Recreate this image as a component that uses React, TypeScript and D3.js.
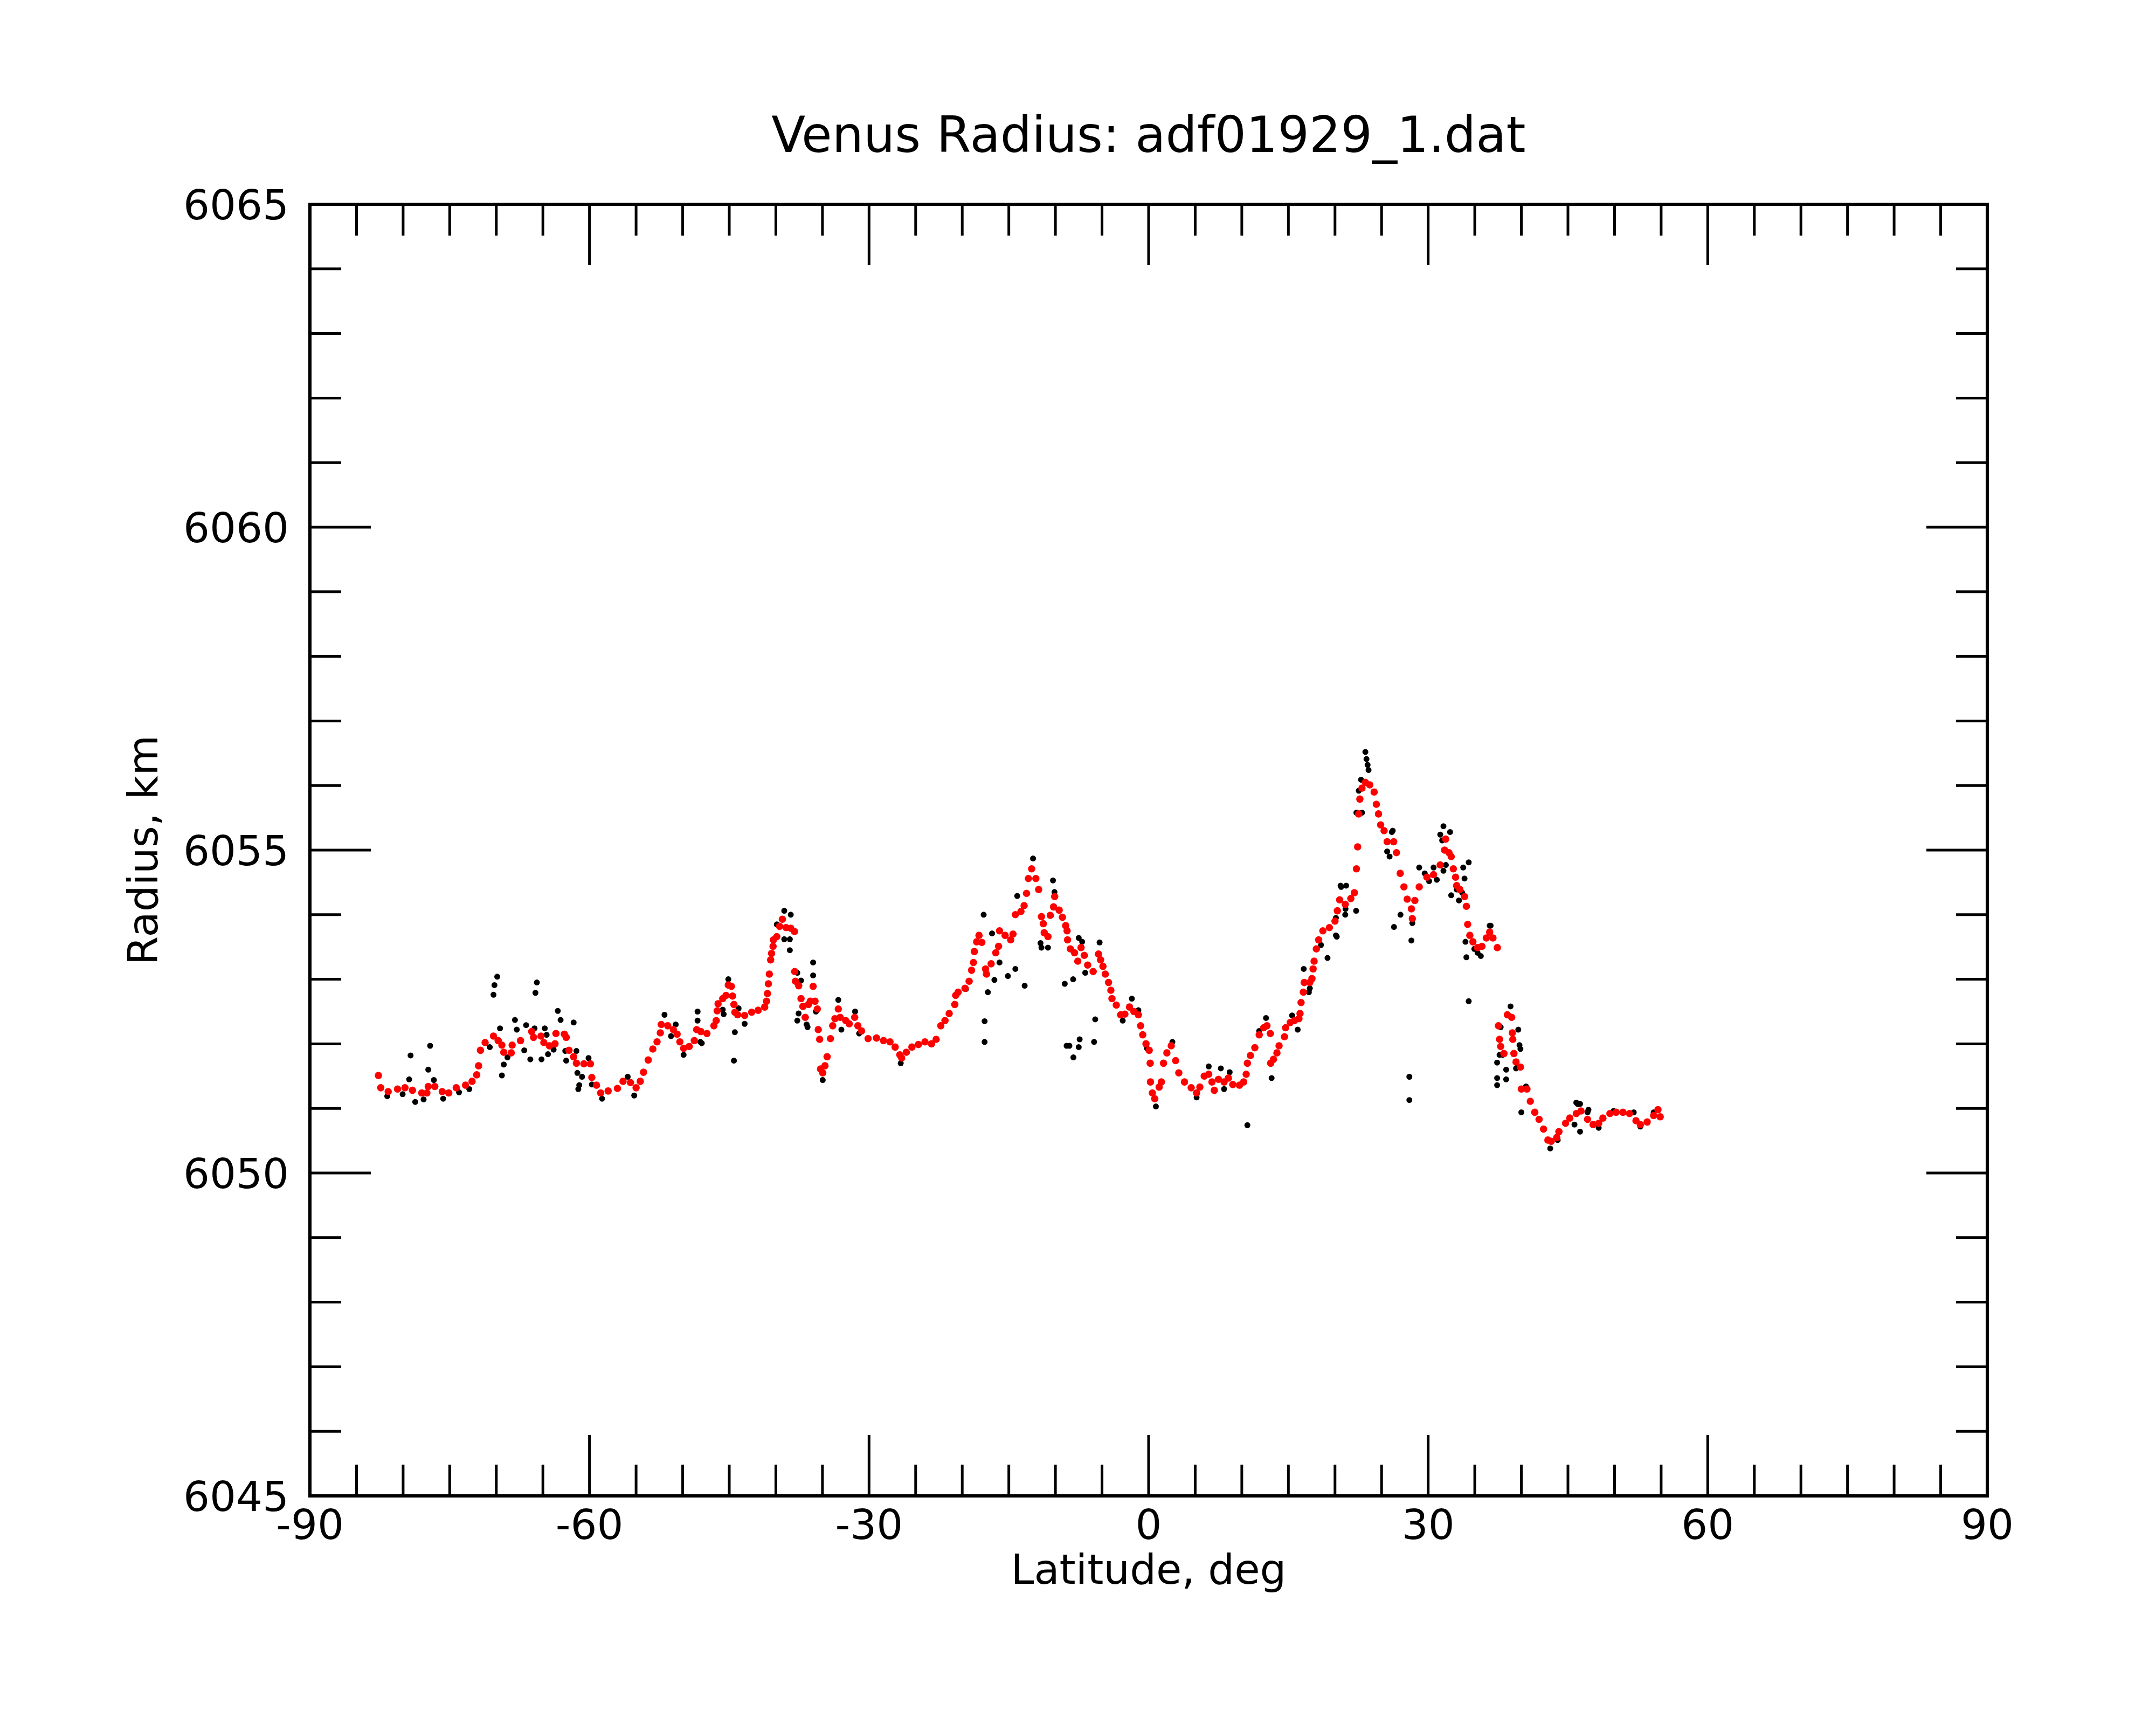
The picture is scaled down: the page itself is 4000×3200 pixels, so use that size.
import React from 'react';
import * as d3 from 'd3';

// smoothed radius profile (red) - [latitude deg, radius km]
const smoothed: [number, number][] = [
  [-82.65, 6051.51], [-82.4, 6051.32], [-81.6, 6051.26], [-80.6, 6051.3], [-79.8, 6051.32],
  [-79.0, 6051.28], [-78.0, 6051.24], [-77.45, 6051.24], [-77.3, 6051.34], [-76.6, 6051.34],
  [-75.8, 6051.26], [-75.1, 6051.24], [-74.3, 6051.32], [-73.3, 6051.36], [-72.6, 6051.42],
  [-72.1, 6051.52], [-71.9, 6051.66], [-71.7, 6051.9], [-71.2, 6052.02], [-70.3, 6052.12],
  [-69.8, 6052.05], [-69.4, 6051.98], [-69.2, 6051.87], [-68.4, 6051.86], [-68.3, 6051.98],
  [-67.4, 6052.05], [-66.2, 6052.19], [-66.0, 6052.1], [-65.2, 6052.12], [-64.9, 6052.02],
  [-64.3, 6051.97], [-63.7, 6052.0], [-63.6, 6052.16], [-62.7, 6052.15], [-62.5, 6052.1],
  [-62.2, 6051.9], [-61.7, 6051.8], [-61.4, 6051.7], [-60.6, 6051.69], [-59.9, 6051.69],
  [-59.75, 6051.48], [-59.25, 6051.36], [-58.8, 6051.24], [-58.0, 6051.27], [-57.0, 6051.31],
  [-56.4, 6051.42], [-55.6, 6051.4], [-55.0, 6051.32], [-54.55, 6051.42], [-54.2, 6051.56],
  [-53.7, 6051.75], [-53.2, 6051.92], [-52.75, 6052.03], [-52.4, 6052.17], [-52.3, 6052.3],
  [-51.6, 6052.28], [-51.0, 6052.22], [-50.6, 6052.15], [-50.3, 6052.03], [-49.9, 6051.93],
  [-49.3, 6051.96], [-48.75, 6052.05], [-48.5, 6052.22], [-48.05, 6052.19], [-47.4, 6052.16],
  [-46.65, 6052.28], [-46.4, 6052.36], [-46.3, 6052.51], [-46.2, 6052.62], [-45.7, 6052.7],
  [-45.35, 6052.75], [-45.1, 6052.91], [-44.77, 6052.89], [-44.65, 6052.74], [-44.5, 6052.61],
  [-44.4, 6052.49], [-44.1, 6052.45], [-43.35, 6052.44], [-42.6, 6052.49], [-41.9, 6052.52],
  [-41.2, 6052.57], [-41.0, 6052.66], [-40.9, 6052.78], [-40.8, 6052.93], [-40.7, 6053.08],
  [-40.56, 6053.3], [-40.46, 6053.4], [-40.3, 6053.51], [-40.27, 6053.61], [-39.9, 6053.66],
  [-39.6, 6053.82], [-39.3, 6053.93], [-38.9, 6053.8], [-38.4, 6053.79], [-38.0, 6053.74],
  [-37.98, 6053.12], [-37.9, 6052.97], [-37.55, 6052.9], [-37.3, 6052.7], [-37.1, 6052.58],
  [-36.85, 6052.41], [-36.5, 6052.61], [-36.3, 6052.66], [-36.0, 6052.89], [-35.8, 6052.66],
  [-35.55, 6052.54], [-35.45, 6052.22], [-35.3, 6052.07], [-35.2, 6051.61], [-34.97, 6051.55],
  [-34.73, 6051.66], [-34.5, 6051.8], [-34.14, 6052.08], [-33.9, 6052.28], [-33.66, 6052.39],
  [-33.3, 6052.54], [-33.1, 6052.41], [-32.5, 6052.36], [-32.13, 6052.31], [-31.54, 6052.41],
  [-31.2, 6052.28], [-30.8, 6052.2], [-30.1, 6052.08], [-29.2, 6052.09], [-28.45, 6052.05],
  [-27.75, 6052.03], [-27.2, 6051.95], [-26.7, 6051.83], [-26.5, 6051.78], [-26.0, 6051.87],
  [-25.4, 6051.95], [-24.7, 6051.99], [-24.0, 6052.03], [-23.3, 6052.0], [-22.8, 6052.07],
  [-22.3, 6052.28], [-21.85, 6052.36], [-21.4, 6052.47], [-20.8, 6052.61], [-20.7, 6052.75],
  [-20.44, 6052.8], [-19.7, 6052.86], [-19.26, 6052.97], [-19.0, 6053.14], [-18.8, 6053.26],
  [-18.7, 6053.43], [-18.45, 6053.58], [-18.2, 6053.68], [-17.9, 6053.57], [-17.5, 6053.16],
  [-17.4, 6053.08], [-16.9, 6053.24], [-16.4, 6053.41], [-16.1, 6053.51], [-16.0, 6053.75],
  [-15.4, 6053.68], [-14.8, 6053.61], [-14.55, 6053.7], [-14.3, 6054.0], [-13.7, 6054.05],
  [-13.36, 6054.14], [-13.1, 6054.33], [-12.9, 6054.56], [-12.55, 6054.71], [-12.1, 6054.56],
  [-11.8, 6054.39], [-11.5, 6053.97], [-11.3, 6053.86], [-11.2, 6053.72], [-10.8, 6053.66],
  [-10.55, 6053.99], [-10.2, 6054.12], [-10.08, 6054.28], [-9.6, 6054.07], [-9.25, 6053.96],
  [-8.9, 6053.83], [-8.75, 6053.75], [-8.7, 6053.61], [-8.4, 6053.47], [-7.95, 6053.41],
  [-7.6, 6053.28], [-7.25, 6053.49], [-6.9, 6053.37], [-6.54, 6053.22], [-5.95, 6053.12],
  [-5.38, 6053.39], [-5.15, 6053.3], [-4.9, 6053.2], [-4.65, 6053.08], [-4.3, 6052.95],
  [-4.05, 6052.83], [-3.93, 6052.7], [-3.47, 6052.6], [-3.0, 6052.45], [-2.55, 6052.46],
  [-2.05, 6052.57], [-1.58, 6052.5], [-1.1, 6052.45], [-0.86, 6052.28], [-0.63, 6052.14],
  [-0.28, 6052.0], [0.06, 6051.9], [0.17, 6051.7], [0.2, 6051.41], [0.4, 6051.24],
  [0.66, 6051.15], [1.13, 6051.33], [1.37, 6051.41], [1.6, 6051.7], [1.96, 6051.86],
  [2.43, 6051.97], [2.9, 6051.74], [3.24, 6051.55], [3.85, 6051.41], [4.57, 6051.32],
  [5.15, 6051.24], [5.5, 6051.33], [5.97, 6051.5], [6.45, 6051.53], [6.8, 6051.41],
  [7.05, 6051.28], [7.5, 6051.45], [8.1, 6051.41], [8.56, 6051.47], [9.03, 6051.37],
  [9.75, 6051.36], [10.2, 6051.41], [10.47, 6051.53], [10.6, 6051.7], [10.93, 6051.82],
  [11.4, 6051.94], [11.87, 6052.14], [12.35, 6052.25], [12.7, 6052.28], [13.06, 6052.16],
  [13.1, 6051.7], [13.4, 6051.76], [13.77, 6051.86], [14.0, 6051.97], [14.58, 6052.11],
  [14.7, 6052.25], [15.2, 6052.33], [15.65, 6052.36], [16.13, 6052.39], [16.25, 6052.47],
  [16.36, 6052.64], [16.6, 6052.8], [16.7, 6052.95], [17.3, 6052.95], [17.53, 6053.01],
  [17.65, 6053.16], [17.76, 6053.28], [18.0, 6053.47], [18.25, 6053.61], [18.7, 6053.75],
  [19.4, 6053.8], [20.0, 6053.9], [20.25, 6054.06], [20.5, 6054.23], [21.1, 6054.16],
  [21.7, 6054.25], [22.08, 6054.34], [22.3, 6054.71], [22.43, 6055.05], [22.55, 6055.56],
  [22.67, 6055.79], [22.9, 6055.96], [23.26, 6056.05], [23.73, 6056.01], [24.2, 6055.9],
  [24.44, 6055.71], [24.67, 6055.56], [24.9, 6055.39], [25.27, 6055.3], [25.6, 6055.13],
  [26.3, 6055.13], [26.6, 6054.96], [27.0, 6054.64], [27.4, 6054.43], [27.75, 6054.24],
  [28.2, 6054.09], [28.3, 6053.94], [28.57, 6054.22], [29.04, 6054.43], [29.87, 6054.58],
  [30.58, 6054.62], [31.29, 6054.77], [31.76, 6055.0], [31.88, 6055.17], [32.23, 6054.96],
  [32.47, 6054.9], [32.7, 6054.71], [32.94, 6054.58], [33.06, 6054.45], [33.4, 6054.39],
  [33.9, 6054.28], [34.1, 6054.13], [34.24, 6053.85], [34.47, 6053.68], [34.8, 6053.58],
  [35.3, 6053.49], [35.77, 6053.51], [36.24, 6053.64], [36.6, 6053.73], [36.95, 6053.64],
  [37.42, 6053.49], [37.54, 6052.28], [37.66, 6052.07], [37.78, 6051.96], [38.13, 6051.85],
  [38.5, 6052.45], [38.96, 6052.41], [39.03, 6052.17], [39.08, 6052.07], [39.2, 6051.85],
  [39.43, 6051.72], [39.9, 6051.64], [40.0, 6051.3], [40.6, 6051.3], [40.96, 6051.11],
  [41.44, 6050.94], [41.9, 6050.83], [42.38, 6050.68], [42.85, 6050.51], [43.2, 6050.49],
  [43.8, 6050.55], [44.03, 6050.64], [44.74, 6050.77], [45.2, 6050.85], [45.9, 6050.92],
  [46.4, 6050.96], [47.1, 6050.83], [47.7, 6050.75], [48.3, 6050.77], [48.75, 6050.85],
  [49.5, 6050.92], [50.17, 6050.94], [50.9, 6050.94], [51.6, 6050.92], [52.3, 6050.81],
  [52.77, 6050.75], [53.5, 6050.79], [54.2, 6050.89], [54.66, 6050.98], [54.9, 6050.87],
];

// raw altimetry samples (black) - [latitude deg, radius km]
const raw: [number, number][] = [
  [-81.7, 6051.19], [-80.05, 6051.22], [-79.35, 6051.45], [-79.2, 6051.82], [-78.7, 6051.1],
  [-77.8, 6051.14], [-77.3, 6051.6], [-77.1, 6051.97], [-76.7, 6051.44], [-75.7, 6051.15],
  [-74.0, 6051.25], [-72.9, 6051.3], [-70.7, 6051.95], [-70.3, 6052.76], [-70.2, 6052.91],
  [-69.9, 6053.04], [-69.6, 6052.24], [-69.4, 6051.51], [-69.2, 6051.68], [-68.8, 6051.79],
  [-68.0, 6052.37], [-67.8, 6052.22], [-67.0, 6051.9], [-66.8, 6052.29], [-66.35, 6051.76],
  [-65.9, 6052.24], [-65.8, 6052.79], [-65.65, 6052.95], [-65.15, 6051.76], [-64.8, 6052.24],
  [-64.6, 6052.14], [-64.45, 6051.84], [-63.85, 6051.91], [-63.4, 6052.51], [-63.1, 6052.37],
  [-62.6, 6051.89], [-62.5, 6051.74], [-61.7, 6052.33], [-61.4, 6051.89], [-61.3, 6051.55],
  [-61.2, 6051.3], [-61.1, 6051.36], [-60.8, 6051.49], [-60.1, 6051.78], [-59.75, 6051.37],
  [-58.65, 6051.15], [-55.9, 6051.49], [-55.2, 6051.2], [-51.95, 6052.45], [-51.25, 6052.12],
  [-50.75, 6052.3], [-49.9, 6051.83], [-48.4, 6052.5], [-48.4, 6052.36], [-48.1, 6052.03],
  [-47.95, 6052.01], [-45.7, 6052.53], [-45.6, 6052.46], [-45.1, 6053.0], [-44.5, 6051.74],
  [-44.4, 6052.18], [-44.0, 6052.55], [-43.35, 6052.31], [-39.9, 6053.85], [-39.1, 6053.62],
  [-39.1, 6054.06], [-38.5, 6053.62], [-38.5, 6053.45], [-38.4, 6054.0], [-37.7, 6053.1],
  [-37.7, 6052.36], [-37.56, 6052.47], [-37.3, 6052.98], [-36.7, 6052.3], [-36.6, 6052.26],
  [-36.0, 6053.26], [-36.0, 6053.06], [-35.8, 6052.66], [-35.7, 6052.5], [-34.97, 6051.44],
  [-33.3, 6052.68], [-32.97, 6052.22], [-31.5, 6052.5], [-31.06, 6052.16], [-26.6, 6051.7],
  [-19.6, 6052.85], [-17.7, 6054.0], [-17.6, 6052.35], [-17.6, 6052.03], [-17.25, 6052.8],
  [-16.8, 6053.71], [-16.55, 6052.99], [-16.0, 6053.26], [-15.1, 6053.05], [-14.3, 6053.16],
  [-14.1, 6054.29], [-13.3, 6052.9], [-12.4, 6054.87], [-11.6, 6053.56], [-11.5, 6053.49],
  [-10.8, 6053.49], [-10.26, 6054.53], [-10.1, 6054.35], [-9.0, 6052.93], [-8.8, 6051.97],
  [-8.5, 6051.97], [-8.1, 6053.0], [-8.07, 6051.79], [-7.5, 6051.95], [-7.5, 6053.64],
  [-7.4, 6052.07], [-7.13, 6053.58], [-6.8, 6053.1], [-5.85, 6052.03], [-5.73, 6052.38],
  [-5.26, 6053.57], [-2.78, 6052.36], [-1.8, 6052.7], [-1.1, 6052.52], [-0.17, 6051.93],
  [0.78, 6051.03], [2.55, 6052.03], [5.15, 6051.17], [6.45, 6051.65], [7.75, 6051.62],
  [8.1, 6051.3], [8.7, 6051.56], [10.6, 6050.74], [11.87, 6052.2], [12.6, 6052.4],
  [13.2, 6051.47], [15.4, 6052.44], [16.0, 6052.22], [16.65, 6053.16], [17.2, 6052.8],
  [17.3, 6052.86], [18.5, 6053.53], [19.2, 6053.33], [20.1, 6053.68], [20.1, 6053.95],
  [20.19, 6053.66], [20.6, 6054.45], [20.66, 6054.43], [21.1, 6054.0], [21.13, 6054.09],
  [21.2, 6054.45], [22.27, 6054.06], [22.3, 6055.58], [22.55, 6055.92], [22.8, 6056.09],
  [22.9, 6055.58], [23.26, 6056.52], [23.38, 6056.41], [23.5, 6056.32], [23.6, 6056.24],
  [25.6, 6054.98], [25.86, 6054.9], [26.1, 6055.28], [26.2, 6055.3], [26.33, 6053.81],
  [27.03, 6054.0], [27.98, 6051.49], [27.98, 6051.13], [28.2, 6053.6], [28.3, 6053.87],
  [29.04, 6054.73], [29.63, 6054.64], [30.1, 6054.52], [30.58, 6054.73], [30.93, 6054.54],
  [31.3, 6055.24], [31.5, 6055.15], [31.64, 6055.37], [31.64, 6054.68], [31.9, 6054.77],
  [32.35, 6055.28], [32.47, 6054.3], [33.06, 6054.39], [33.3, 6054.22], [33.65, 6054.34],
  [33.76, 6054.73], [33.9, 6054.56], [34.0, 6053.58], [34.1, 6053.34], [34.35, 6054.81],
  [34.35, 6052.66], [34.95, 6053.47], [35.3, 6053.41], [35.65, 6053.36], [36.6, 6053.83],
  [36.7, 6053.83], [37.4, 6051.71], [37.4, 6051.47], [37.4, 6051.36], [37.66, 6051.83],
  [37.78, 6052.26], [38.0, 6051.83], [38.37, 6051.6], [38.37, 6051.45], [38.84, 6052.58],
  [39.43, 6051.62], [39.55, 6051.64], [39.67, 6052.22], [39.8, 6051.98], [39.9, 6051.92],
  [40.0, 6050.94], [40.5, 6051.34], [43.1, 6050.38], [43.9, 6050.51], [45.7, 6050.75],
  [45.9, 6051.09], [46.04, 6051.07], [46.3, 6050.64], [46.3, 6051.07], [47.1, 6050.94],
  [47.2, 6050.98], [48.3, 6050.7], [49.9, 6050.96], [52.06, 6050.94], [52.77, 6050.72],
  [54.2, 6050.94],
];

const xMajorTicks = [-90, -60, -30, 0, 30, 60, 90];
const yMajorTicks = [6045, 6050, 6055, 6060, 6065];
const xMinorStep = 5;
const yMinorStep = 1;

const W = 4000;
const H = 3200;
const left = 575;
const right = 3687;
const top = 379;
const bottom = 2775;
const majorLen = 113;
const minorLen = 58;
const font = '"DejaVu Sans", Verdana, sans-serif';

const App: React.FC = () => {
  const x = d3.scaleLinear().domain([-90, 90]).range([left, right]);
  const y = d3.scaleLinear().domain([6045, 6065]).range([bottom, top]);

  const xMinor = d3.range(-90, 90.001, xMinorStep).filter(v => !xMajorTicks.includes(v));
  const yMinor = d3.range(6045, 6065.001, yMinorStep).filter(v => !yMajorTicks.includes(v));

  const tickStroke = { stroke: '#000', strokeWidth: 5 };

  return (
    <svg
      width={W}
      height={H}
      style={{ position: 'absolute', left: 0, top: 0, background: '#fff' }}
    >
      <rect x={0} y={0} width={W} height={H} fill="#fff" />

      {/* title */}
      <text x={(left + right) / 2} y={282} textAnchor="middle" fontFamily={font} fontSize={92}>
        Venus Radius: adf01929_1.dat
      </text>

      {/* x ticks, bottom and top */}
      {xMajorTicks.map(v => (
        <g key={`xM${v}`}>
          <line x1={x(v)} x2={x(v)} y1={bottom} y2={bottom - majorLen} {...tickStroke} />
          <line x1={x(v)} x2={x(v)} y1={top} y2={top + majorLen} {...tickStroke} />
          <text x={x(v)} y={2855} textAnchor="middle" fontFamily={font} fontSize={77}>
            {v}
          </text>
        </g>
      ))}
      {xMinor.map(v => (
        <g key={`xm${v}`}>
          <line x1={x(v)} x2={x(v)} y1={bottom} y2={bottom - minorLen} {...tickStroke} />
          <line x1={x(v)} x2={x(v)} y1={top} y2={top + minorLen} {...tickStroke} />
        </g>
      ))}

      {/* y ticks, left and right */}
      {yMajorTicks.map(v => (
        <g key={`yM${v}`}>
          <line x1={left} x2={left + majorLen} y1={y(v)} y2={y(v)} {...tickStroke} />
          <line x1={right} x2={right - majorLen} y1={y(v)} y2={y(v)} {...tickStroke} />
          <text x={536} y={y(v) + 28} textAnchor="end" fontFamily={font} fontSize={77}>
            {v}
          </text>
        </g>
      ))}
      {yMinor.map(v => (
        <g key={`ym${v}`}>
          <line x1={left} x2={left + minorLen} y1={y(v)} y2={y(v)} {...tickStroke} />
          <line x1={right} x2={right - minorLen} y1={y(v)} y2={y(v)} {...tickStroke} />
        </g>
      ))}

      {/* axis titles */}
      <text x={(left + right) / 2} y={2938} textAnchor="middle" fontFamily={font} fontSize={77}>
        Latitude, deg
      </text>
      <text
        transform={`translate(292, ${(top + bottom) / 2}) rotate(-90)`}
        textAnchor="middle"
        fontFamily={font}
        fontSize={77}
      >
        Radius, km
      </text>

      {/* data */}
      <g>
        {raw.map((d, i) => (
          <circle key={`r${i}`} cx={x(d[0])} cy={y(d[1])} r={5.5} fill="#000" />
        ))}
      </g>
      <g>
        {smoothed.map((d, i) => (
          <circle key={`s${i}`} cx={x(d[0])} cy={y(d[1])} r={6.8} fill="#ff0000" />
        ))}
      </g>

      {/* frame */}
      <rect
        x={left}
        y={top}
        width={right - left}
        height={bottom - top}
        fill="none"
        stroke="#000"
        strokeWidth={6}
      />
    </svg>
  );
};

export default App;
